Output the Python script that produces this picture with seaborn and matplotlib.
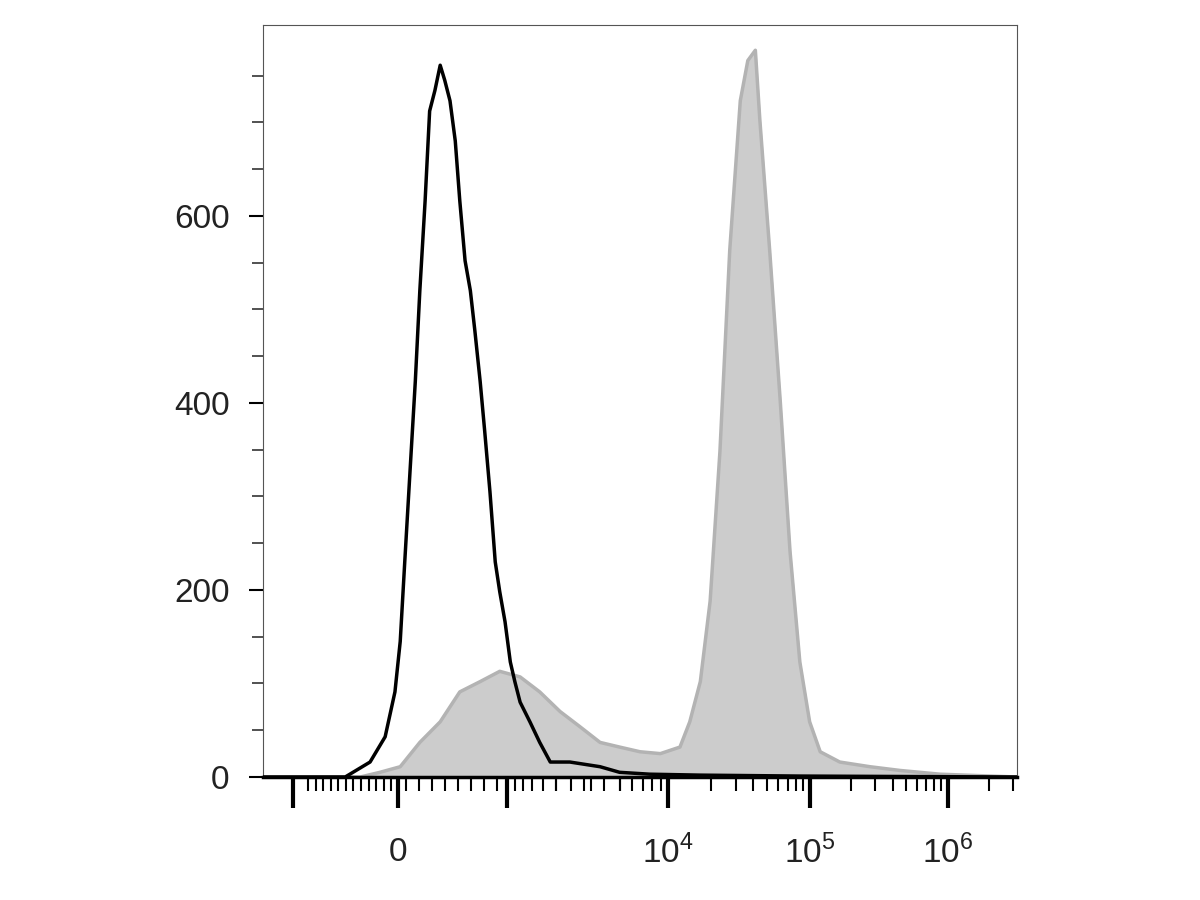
import numpy as np
import matplotlib
matplotlib.use("Agg")
import matplotlib.pyplot as plt
import seaborn as sns

# channel units 0-1000 (display scale), counts
black_x = [0,109,142,162,175,182,188,195,202,208,215,221,228,235,241,248,255,261,268,275,281,288,294,301,308,314,321,328,334,341,354,367,381,407,447,473,513,580,712,1000]
black_y = [0,0,16,43,91,145,230,327,423,520,616,712,734,761,745,723,680,616,552,520,477,423,370,305,230,198,166,123,102,80,59,37,16,16,11,5,3,2,1,0]
gray_x = [0,129,155,182,208,235,261,288,314,341,367,394,420,447,473,500,527,553,566,580,593,606,619,633,643,653,659,672,686,699,712,725,739,765,805,845,898,1000]
gray_y = [0,0,5,11,37,59,91,102,113,107,91,70,54,37,32,27,25,32,59,102,188,348,563,723,766,777,702,563,402,241,123,59,27,16,11,7,3,0]
major_pos = [40,179,324,537,725,908]
label_pos = [179,537,725,908]
labels = ["0", "$10^4$", "$10^5$", "$10^6$"]

sns.set_theme(style="white")
plt.rcParams['font.family'] = ['Liberation Sans', 'DejaVu Sans']
plt.rcParams['mathtext.fontset'] = 'custom'
plt.rcParams['mathtext.rm'] = 'Liberation Sans'
fig = plt.figure(figsize=(12, 9), dpi=100)
ax = fig.add_axes([263/1200, 123/900, 754/1200, 752/900])

ax.fill_between(gray_x, gray_y, color="#cccccc", zorder=1)
sns.lineplot(x=gray_x, y=gray_y, ax=ax, color="#b3b3b3", lw=2.5, zorder=2)
sns.lineplot(x=black_x, y=black_y, ax=ax, color="black", lw=2.5, zorder=3)

ax.set_xlim(0, 1000)
ax.set_ylim(0, 804)
for s in ax.spines.values():
    s.set_color("#555555"); s.set_linewidth(0.8)
ax.spines["bottom"].set_color("black"); ax.spines["bottom"].set_linewidth(2.5)

minor = []
for base, step in [(537, 188), (725, 183)]:
    for k in range(2, 10):
        minor.append(base + step*np.log10(k))
for k in range(2, 10):
    p = 908 + 183*np.log10(k)
    if p < 1000: minor.append(p)
for k in range(2, 10):
    minor.append(324 + 213*np.log10(k))
    minor.append(537 - 213*np.log10(k))
minor += list(np.linspace(60, 170, 12)) + list(np.linspace(190, 310, 8))
ax.set_xticks(major_pos)
ax.set_xticklabels([""]*len(major_pos))
ax.set_xticks(minor, minor=True)
ax.tick_params(axis="x", which="major", direction="out", length=22, width=3, color="black", bottom=True)
ax.tick_params(axis="x", which="minor", direction="out", length=10, width=1.5, color="black", bottom=True)
for p, l in zip(label_pos, labels):
    ax.text(p, -0.1, l, transform=ax.get_xaxis_transform(), ha="center", va="center", fontsize=24, color="#222222")

ax.set_yticks([0, 200, 400, 600])
ax.set_yticklabels(["0", "200", "400", "600"], fontsize=24, color="#222222")
ax.set_yticks(np.arange(50, 800, 50), minor=True)
ax.tick_params(axis="y", which="major", direction="out", length=10, width=1.5, color="black", left=True, pad=14)
ax.tick_params(axis="y", which="minor", direction="out", length=8, width=1.2, color="#333333", left=True)
ax.set_xlabel(""); ax.set_ylabel("")

fig.savefig("out.png", dpi=100)
